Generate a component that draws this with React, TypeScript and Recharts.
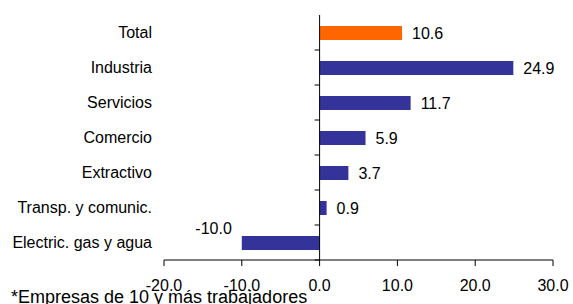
import { BarChart, Bar, XAxis, YAxis, Cell, LabelList, ReferenceLine } from "recharts";

const categories = [
  "Total",
  "Industria",
  "Servicios",
  "Comercio",
  "Extractivo",
  "Transp. y comunic.",
  "Electric. gas y agua",
];
const values = [10.6, 24.9, 11.7, 5.9, 3.7, 0.9, -10.0];
const xTicks = [-20, -10, 0, 10, 20, 30];
const footnote = "*Empresas de 10 y más trabajadores";

const data = categories.map((name, i) => ({ name, value: values[i] }));

const FONT = "'Liberation Sans', Arial, sans-serif";
const BLUE = "#333399";
const ORANGE = "#FF6600";

// zero line with the category boundary ticks on its left side
function ZeroAxis(props: any) {
  const { x1, y1, y2 } = props;
  const n = categories.length;
  const step = (y2 - y1) / n;
  const marks = [];
  for (let i = 0; i < n; i++) {
    const y = y1 + i * step;
    marks.push(<line key={i} x1={x1 - 5} x2={x1} y1={y} y2={y} stroke="#000" />);
  }
  return (
    <g>
      <line x1={x1} x2={x1} y1={y1} y2={y2} stroke="#000" />
      {marks}
    </g>
  );
}

function ValueLabel(props: any) {
  const { x, y, width, height, value } = props;
  const text = Number(value).toFixed(1);
  if (value < 0) {
    const left = Math.min(x, x + width);
    return (
      <text x={left - 10} y={y + height / 2 - 15} textAnchor="end" dominantBaseline="central"
        fontSize={16} fontFamily={FONT} fill="#000">
        {text}
      </text>
    );
  }
  return (
    <text x={x + width + 10} y={y + height / 2} textAnchor="start" dominantBaseline="central"
      fontSize={16} fontFamily={FONT} fill="#000">
      {text}
    </text>
  );
}

export default function App() {
  return (
    <div style={{ position: "fixed", left: 0, top: 0, width: 573, height: 304, background: "#fff", overflow: "hidden" }}>
      <BarChart
        width={573}
        height={304}
        data={data}
        layout="vertical"
        margin={{ top: 15, right: 20, bottom: 14, left: 1 }}
      >
        <XAxis
          type="number"
          domain={[-20, 30]}
          ticks={xTicks}
          tickFormatter={(v) => Number(v).toFixed(1)}
          stroke="#000"
          tickSize={6}
          tickMargin={14}
          height={30}
          tick={{ fill: "#000", fontSize: 16, fontFamily: FONT }}
          interval={0}
        />
        <YAxis
          type="category"
          dataKey="name"
          width={163}
          axisLine={false}
          tickLine={false}
          tickSize={0}
          tickMargin={12}
          interval={0}
          tick={{ fill: "#000", fontSize: 16, fontFamily: FONT }}
        />
        <Bar dataKey="value" barSize={14} isAnimationActive={false}>
          {data.map((d) => (
            <Cell key={d.name} fill={d.name === "Total" ? ORANGE : BLUE} />
          ))}
          <LabelList dataKey="value" content={<ValueLabel />} />
        </Bar>
        <ReferenceLine x={0} shape={<ZeroAxis />} />
      </BarChart>
      <div
        style={{
          position: "absolute",
          left: 11,
          top: 289,
          fontFamily: FONT,
          fontSize: 18,
          lineHeight: "16px",
          color: "#000",
          whiteSpace: "nowrap",
        }}
      >
        {footnote}
      </div>
    </div>
  );
}
